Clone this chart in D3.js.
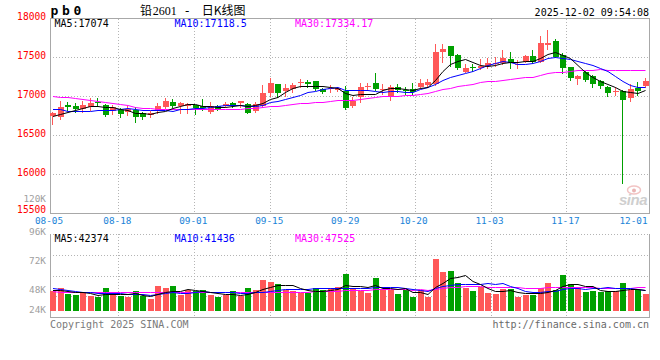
<!DOCTYPE html>
<html><head><meta charset="utf-8">
<script src="https://cdn.jsdelivr.net/npm/d3@7"></script>
<style>html,body{margin:0;padding:0;background:#fff;}svg{display:block}</style>
</head><body><svg id="c" width="660" height="360"></svg>
<script>
// ---------- DATA ----------
const dates = ["08-05","08-06","08-07","08-08","08-11","08-12","08-13","08-14","08-15","08-18","08-19","08-20","08-21","08-22","08-25","08-26","08-27","08-28","08-29",
"09-01","09-02","09-03","09-04","09-05","09-08","09-09","09-10","09-11","09-12","09-15","09-16","09-17","09-18","09-19","09-22","09-23","09-24","09-25","09-26","09-29","09-30",
"10-09","10-10","10-13","10-14","10-15","10-16","10-17","10-20","10-21","10-22","10-23","10-24","10-27","10-28","10-29","10-30","10-31",
"11-03","11-04","11-05","11-06","11-07","11-10","11-11","11-12","11-13","11-14","11-17","11-18","11-19","11-20","11-21","11-24","11-25","11-26","11-27","11-28",
"12-01","12-02"];
const opens  = [16744,16735,16891,16872,16829,16855,16925,16885,16811,16820,16791,16820,16778,16760,16808,16855,16927,16876,16872,16881,
16872,16791,16872,16872,16914,16914,16901,16811,16872,17035,17154,17064,17086,17170,17179,17188,17086,17094,17077,17064,
16872,16991,17124,17163,17077,17004,17112,17081,17086,17112,17141,17154,17560,17641,17526,17311,17367,17355,17389,17419,
17427,17478,17402,17440,17513,17440,17654,17705,17526,17368,17222,17311,17260,17196,17119,17060,17064,16974,17106,17128];
const highs  = [16799,16936,16917,16906,16940,16969,16970,16897,16885,16842,16872,16855,16799,16811,16906,16978,16962,16927,16910,16885,
16960,16927,16889,16919,16927,16936,16914,16919,17141,17227,17154,17154,17163,17214,17205,17192,17106,17141,17119,17128,
16991,17163,17163,17299,17154,17141,17154,17112,17163,17214,17214,17666,17663,17641,17535,17406,17406,17474,17483,17496,
17590,17568,17461,17526,17590,17769,17846,17731,17547,17376,17269,17324,17269,17205,17128,17119,17077,17150,17183,17235];
const lows   = [16641,16701,16820,16801,16799,16820,16872,16743,16765,16727,16756,16670,16701,16727,16778,16842,16855,16786,16782,16773,
16820,16778,16820,16863,16863,16863,16778,16791,16863,17004,16991,17000,17047,17119,17112,17077,17035,17055,17068,16833,
16855,16927,17090,17077,17025,16949,17055,17022,17025,17099,17128,17135,17440,17388,17346,17307,17320,17346,17363,17389,
17406,17355,17363,17432,17419,17432,17603,17496,17299,17205,17154,17192,17112,17099,17000,17013,15881,16940,17013,17119];
const closes = [16778,16855,16856,16829,16885,16906,16910,16756,16855,16765,16829,16727,16735,16788,16872,16940,16872,16914,16898,16846,
16840,16872,16833,16901,16889,16936,16786,16901,17042,17170,17042,17103,17141,17179,17154,17086,17055,17103,17103,16850,
16936,17112,17132,17086,17090,17112,17077,17073,17055,17170,17183,17564,17603,17517,17355,17363,17359,17389,17427,17427,
17483,17427,17410,17513,17440,17676,17676,17504,17355,17227,17256,17205,17154,17128,17042,17068,16949,17086,17064,17192];
const volumes = [40000,46800,33400,31400,36000,30000,28000,45400,34800,30000,27400,39400,29400,23400,49400,45400,49400,31400,42800,40000,
41400,31400,27400,31400,39400,30000,45400,41400,61400,58000,53400,42800,40000,36800,36800,46800,42800,45400,47400,73400,
45400,40000,35400,65400,44000,42800,33400,41400,27400,42800,27400,103400,78000,79400,56000,46800,40000,48000,36000,33400,
44000,44000,28000,32000,32800,46800,55400,42800,71400,53400,45400,38000,40000,38000,40000,40000,55400,42800,42800,33400];
// moving-average values at the left edge (they depend on days before the window)
const ma5Head  = [16750,16765,16795,16818];
const ma10Head = [16829,16829,16812,16812,16812,16812,16815,16820,16825];
const ma30Head = [16996,16987,16983,16970,16958,16949,16936,16927,16914,16901,16881,16863,16850,16842,16837,16833,16830,16830,16829,16829,16829,16830,16830,16832,16835,16838,16840,16846,16855];
const vma5Head  = [43000,42000,40500,39000];
const vma10Head = [46000,45000,43000,41000,39000,37500,36500,36000,35500];
const vma30Head = [40000,38600,37800,37500,37400,37300,37300,37300,37200,37200,37200,37200,37200,37300,37300,37300,37300,37300,37400,37400,37400,37400,37500,37500,37500,37600,37700,37800,37900];
const tickDates = ["08-05","08-18","09-01","09-15","09-29","10-20","11-03","11-17","12-01"];
const priceTicks = [18000,17500,17000,16500,16000,15500];
const volTicks = [120000,96000,72000,48000,24000];
const priceLegend = ["MA5:17074","MA10:17118.5","MA30:17334.17"];
const volLegend = ["MA5:42374","MA10:41436","MA30:47525"];
const symbol = "pb0";
const titleParts = ["铅","2601","-","日K线图"];
const stamp = "2025-12-02 09:54:08";
const copyright = "Copyright 2025 SINA.COM";
const site = "http://finance.sina.com.cn";

// ---------- STYLE ----------
const MONO = "'DejaVu Sans Mono', monospace";
const RED = "#ff5858", GREEN = "#00a000";
const maColors = ["#000000","#0000ff","#ff00ff"];
const GRID = "#b4b4b4", AXIS = "#a8a8a8";

const svg = d3.select("#c");
const N = closes.length;
const L = 50, R = 650;
const xb = d3.scaleBand().domain(d3.range(N)).range([L, 648.5]).paddingInner(0.2).paddingOuter(0);
const xp = d3.scalePoint().domain(d3.range(N)).range([L, R]);
const y = d3.scaleLinear().domain([15500,18000]).range([213,18]);
const yv = d3.scaleLinear().domain([0,150000]).range([311,236]);
const yvLabel = d3.scaleLinear().domain([24000,48000,96000,120000]).range([313.3,293.3,235.2,201.5]);

function ma(arr, n, head){ return arr.map((v,i)=> i < n-1 ? head[i] : d3.mean(arr.slice(i-n+1,i+1))); }

const tickIdx = tickDates.map(d=>dates.indexOf(d));
const gridIdx = tickIdx.filter(i=> i>0 && xp(i) < 640);

// ---------- GRID / FRAMES ----------
const g = svg.append("g");
priceTicks.filter(p=>p<18000 && p>15500).forEach(p=>{
  g.append("line").attr("x1",L).attr("x2",649).attr("y1",Math.round(y(p))+0.5).attr("y2",Math.round(y(p))+0.5)
   .attr("stroke",GRID).attr("stroke-dasharray","1,2");
});
gridIdx.forEach(i=>{
  const x = Math.round(xp(i))+0.5;
  g.append("line").attr("x1",x).attr("x2",x).attr("y1",19).attr("y2",213).attr("stroke",GRID).attr("stroke-dasharray","1,2");
  g.append("line").attr("x1",x).attr("x2",x).attr("y1",234).attr("y2",318).attr("stroke",GRID).attr("stroke-dasharray","1,2");
});
g.append("line").attr("x1",L).attr("x2",650).attr("y1",18.5).attr("y2",18.5).attr("stroke",AXIS);
g.append("line").attr("x1",L+0.5).attr("x2",L+0.5).attr("y1",18).attr("y2",214).attr("stroke",AXIS);
g.append("line").attr("x1",649.5).attr("x2",649.5).attr("y1",18).attr("y2",214).attr("stroke",AXIS);
g.append("line").attr("x1",L).attr("x2",650).attr("y1",213.5).attr("y2",213.5).attr("stroke",AXIS);
[255,275.5,296].forEach(yy=>{
  g.append("line").attr("x1",L).attr("x2",649).attr("y1",Math.round(yy)+0.5).attr("y2",Math.round(yy)+0.5)
   .attr("stroke",GRID).attr("stroke-dasharray","1,2");
});
g.append("line").attr("x1",L).attr("x2",650).attr("y1",234.5).attr("y2",234.5).attr("stroke",GRID).attr("stroke-dasharray","1,2");
g.append("line").attr("x1",L+0.5).attr("x2",L+0.5).attr("y1",234).attr("y2",318).attr("stroke",AXIS);
g.append("line").attr("x1",649.5).attr("x2",649.5).attr("y1",234).attr("y2",318).attr("stroke",AXIS);
g.append("line").attr("x1",L).attr("x2",650).attr("y1",317.5).attr("y2",317.5).attr("stroke",AXIS);

// ---------- WATERMARK ----------
const wm = svg.append("g");
wm.append("ellipse").attr("cx",634).attr("cy",190).attr("rx",6.5).attr("ry",4).attr("fill","none").attr("stroke","#f2c4c4").attr("stroke-width",1.5);
wm.append("circle").attr("cx",634).attr("cy",190.5).attr("r",2).attr("fill","#eab4b4");
wm.append("text").attr("x",619).attr("y",205).attr("font-family","'Liberation Sans', sans-serif").attr("font-style","italic")
  .attr("font-weight","bold").attr("font-size",15).attr("fill","#cfcfcf").attr("letter-spacing",-0.5).text("sina");

// ---------- CANDLES ----------
const cg = svg.append("g");
d3.range(N).forEach(i=>{
  const up = closes[i] >= opens[i];
  const col = up ? RED : GREEN;
  const x0 = Math.round(xb(i));
  const cx = x0 + 2.5;
  cg.append("line").attr("x1",cx).attr("x2",cx).attr("y1",Math.round(y(highs[i]))).attr("y2",Math.round(y(lows[i]))+1)
    .attr("stroke",col).attr("stroke-width",1);
  const yt = Math.round(y(Math.max(opens[i],closes[i])));
  const yb = Math.round(y(Math.min(opens[i],closes[i])));
  cg.append("rect").attr("x",x0).attr("y",yt).attr("width",xb.bandwidth()).attr("height",Math.max(1,yb-yt)).attr("fill",col);
});

// ---------- VOLUME BARS ----------
const vg = svg.append("g");
d3.range(N).forEach(i=>{
  const up = closes[i] >= opens[i];
  const x0 = Math.round(xb(i));
  const yt = Math.round(yv(volumes[i]));
  vg.append("rect").attr("x",x0).attr("y",yt).attr("width",xb.bandwidth()).attr("height",yv(0)-yt).attr("fill",up?RED:GREEN);
});

// ---------- MA LINES ----------
const pm = [ma(closes,5,ma5Head), ma(closes,10,ma10Head), ma(closes,30,ma30Head)];
const vm = [ma(volumes,5,vma5Head), ma(volumes,10,vma10Head), ma(volumes,30,vma30Head)];
const lineP = d3.line().x((d,i)=>xb(i)+3).y(d=>Math.round(y(d))+0.5);
const lineV = d3.line().x((d,i)=>xb(i)+3).y(d=>Math.round(yv(d))+0.5);
[2,1,0].forEach(k=>{
  svg.append("path").attr("d",lineP(pm[k])).attr("fill","none").attr("stroke",maColors[k]).attr("stroke-width",1);
  svg.append("path").attr("d",lineV(vm[k])).attr("fill","none").attr("stroke",maColors[k]).attr("stroke-width",1);
});

// ---------- TEXT ----------
const t = svg.append("g").attr("font-family",MONO);
priceTicks.forEach(p=>{
  t.append("text").attr("x",46).attr("y",Math.min(y(p)+1.6,213)).attr("text-anchor","end").attr("font-size",9.6).attr("fill","#ff0000").text(p);
});
volTicks.forEach(v=>{
  t.append("text").attr("x",46).attr("y",yvLabel(v)).attr("text-anchor","end").attr("font-size",9.4)
   .attr("fill","#a0a0a0").text((v/1000)+"K");
});
tickIdx.forEach((i,k)=>{
  const w = 30;
  let cx = xp(i) - 1;
  if (cx + w/2 > 648.5) cx = 648.5 - w/2;
  t.append("text").attr("x",cx).attr("y",224.2).attr("text-anchor","middle").attr("font-size",9.4).attr("fill","#1a84d8").text(tickDates[k]);
});
const legX = [54.5,174.5,295];
priceLegend.forEach((s,k)=>{
  t.append("text").attr("x",legX[k]).attr("y",26.8).attr("font-size",10).attr("fill",maColors[k]).text(s);
});
volLegend.forEach((s,k)=>{
  t.append("text").attr("x",legX[k]).attr("y",241.7).attr("font-size",10).attr("fill",maColors[k]).text(s);
});
t.append("text").attr("x",50.5).attr("y",15).attr("font-size",13).attr("font-weight","bold").attr("letter-spacing",3.7).attr("fill","#000").text(symbol);
t.append("text").attr("x",649).attr("y",15.7).attr("text-anchor","end").attr("font-size",10).attr("fill","#000").text(stamp);
t.append("text").attr("x",50).attr("y",327.5).attr("font-size",10).attr("fill","#7a7a7a").text(copyright);
t.append("text").attr("x",649).attr("y",327.5).attr("text-anchor","end").attr("font-size",10).attr("fill","#6a6a6a").text(site);

const title = svg.append("text").attr("y",15).attr("font-size",12).attr("fill","#000");
const tx = [140,152.7,185,201.7];
const tf = ["'Noto Sans CJK SC', sans-serif","'Liberation Serif', serif","'DejaVu Sans', sans-serif","'Noto Sans CJK SC', sans-serif"];
titleParts.forEach((s,k)=>{ title.append("tspan").attr("x",tx[k]).attr("font-family",tf[k]).text(s); });
</script></body></html>
